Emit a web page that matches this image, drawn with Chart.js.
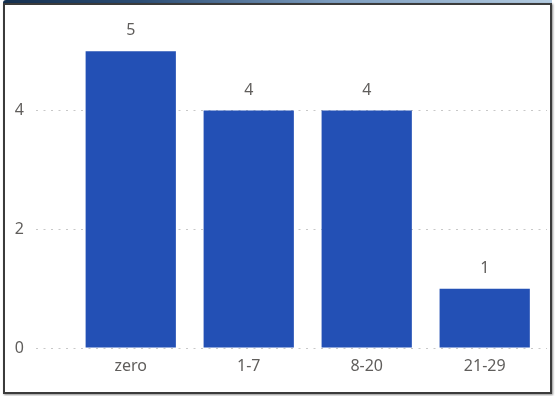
<!DOCTYPE html>
<html>
<head>
<meta charset="utf-8">
<script src="https://cdn.jsdelivr.net/npm/chart.js@4/dist/chart.umd.min.js"></script>
<style>
  html, body { margin: 0; padding: 0; background: #ffffff; }
  #wrap { position: relative; width: 555px; height: 396px; overflow: hidden; }
  #c { position: absolute; left: 0; top: 0; }
  #topband {
    position: absolute; left: 3px; top: 0; width: 549px; height: 4px;
    border-top-left-radius: 3px;
    background: linear-gradient(to right, #15304f 0%, #2c4d74 25%, #7d9dbf 60%, #b3cbe0 100%);
  }
  #frame {
    position: absolute; left: 3px; top: 3px; width: 549px; height: 391px;
    box-sizing: border-box; border: 2px solid #3b3b3b;
    box-shadow: 1px 1px 2px rgba(0,0,0,0.45);
    pointer-events: none;
  }
</style>
</head>
<body>
<div id="wrap">
  <canvas id="c" width="555" height="396"></canvas>
  <div id="topband"></div>
  <div id="frame"></div>
</div>
<script>
// Categories and counts
const categories = ['zero', '1-7', '8-20', '21-29'];
const counts = [5, 4, 4, 1];
const yTicks = [0, 2, 4];

const textColor = '#605e5c';
const fontFamily = '"Noto Sans", "Open Sans", sans-serif';

// Draws each bar's count above it
const valueLabels = {
  id: 'valueLabels',
  afterDatasetsDraw(chart) {
    const ctx = chart.ctx;
    const meta = chart.getDatasetMeta(0);
    ctx.save();
    ctx.fillStyle = textColor;
    ctx.font = '16px ' + fontFamily;
    ctx.textAlign = 'center';
    ctx.textBaseline = 'alphabetic';
    meta.data.forEach((bar, i) => {
      ctx.fillText(String(counts[i]), bar.x, bar.y - 16);
    });
    ctx.restore();
  }
};

new Chart(document.getElementById('c'), {
  type: 'bar',
  data: {
    datasets: [{
      data: counts.map((v, i) => ({ x: i, y: v })),
      backgroundColor: '#2350b5',
      borderWidth: 0,
      barPercentage: 0.765,
      categoryPercentage: 1
    }]
  },
  options: {
    responsive: false,
    animation: false,
    events: [],
    layout: { padding: { top: 21, right: 8, left: 0, bottom: 0 } },
    plugins: { legend: { display: false }, tooltip: { enabled: false } },
    scales: {
      x: {
        type: 'linear',
        min: -0.803,
        max: 3.528,
        offset: false,
        bounds: 'data',
        grid: { display: false },
        border: { display: false },
        afterBuildTicks: s => { s.ticks = categories.map((_, i) => ({ value: i })); },
        afterFit: s => { s.height = 48; },
        ticks: {
          padding: 1,
          color: textColor,
          font: { size: 16, family: fontFamily },
          callback: v => categories[v],
          maxRotation: 0,
          autoSkip: false
        }
      },
      y: {
        min: 0,
        max: 5.5,
        afterBuildTicks: s => { s.ticks = yTicks.map(v => ({ value: v })); },
        afterFit: s => { s.width = 36; },
        border: { display: false, dash: [2, 5.5] },
        grid: {
          color: '#c8c8c8',
          lineWidth: 1,
          drawTicks: false
        },
        ticks: {
          padding: 12,
          color: textColor,
          font: { size: 16, family: fontFamily }
        }
      }
    }
  },
  plugins: [valueLabels]
});
</script>
</body>
</html>
